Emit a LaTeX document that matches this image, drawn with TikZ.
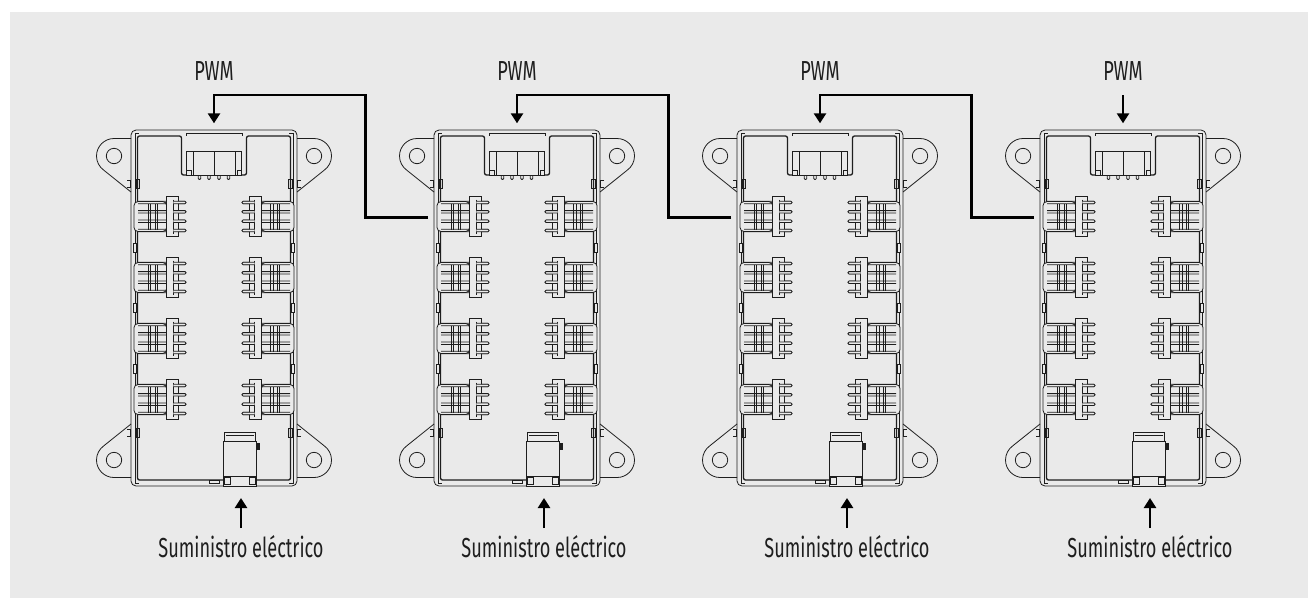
\documentclass[tikz,border=0pt]{standalone}
\usepackage{fontspec}
\newfontfamily\lblfont{Fira Sans}[FakeStretch=0.66]
\usetikzlibrary{arrows.meta}
\definecolor{bg}{HTML}{EAEAEA}
\definecolor{ink}{HTML}{1E1E1E}
\tikzset{
  part/.style={draw=ink, line width=0.8pt},
  wall/.style={draw=ink, line width=1.3pt},
  sig/.style={draw=black, line width=2.6pt, -{Triangle[length=10pt,width=12pt]}},
  lbl/.style={font=\lblfont\fontsize{27.5}{30}\selectfont, text=ink, inner sep=0pt, anchor=base},
}
\newcommand\drawboard[2]{%
\begin{scope}[shift={(#1,308)}]
  % ears
  \foreach \s in {1,-1}{\foreach \t in {1,-1}{
    \begin{scope}[xscale=\s, yscale=\t]
      \draw[part] (-83,-169.5) -- (-100,-169.5) arc[start angle=-90, end angle=-235, radius=17.5] -- (-83,-116);
      \draw[part] (-100,-152) circle[radius=7.7];
      \draw[part] (-87,-128) -- (-83.5,-128) -- (-83.5,-121) -- (-87,-121);
      \draw[part] (-78,-129) rectangle (-74.3,-120);
      \draw[part] (-79,-173) -- (-79,-175) -- (-75,-175);
    \end{scope}}}
  % body
  \node[part, rounded corners=5, minimum width=166pt, minimum height=356pt, inner sep=0pt] (body#2) at (0,0) {};
  \draw[part] (-79,-173) -- (-79,173) (79,-173) -- (79,173);
  \draw[wall, rounded corners=2] (-76.5,172) -- (-76.5,-172) -- (-32.5,-172) -- (-32.5,-133) -- (32.5,-133) -- (32.5,-172) -- (76.5,-172) -- (76.5,172) -- cycle;
  \draw[part] (-28,-172.5) -- (-28,-174.5) -- (28,-174.5) -- (28,-172.5);
  % top connector
  \draw[part, fill=bg] (-27.5,-156.5) rectangle (27.5,-133);
  \draw[part] (-21,-156.5) -- (-21,-133) (0,-156.5) -- (0,-133) (21,-156.5) -- (21,-133);
  \draw[part] (-27.5,-138) rectangle (-23,-133) (23,-138) rectangle (27.5,-133);
  \foreach \px in {-14.5,-5,5,14.5}
    \draw[part, rounded corners=1] (\px-1.3,-133) -- (\px-1.3,-128.5) -- (\px+1.3,-128.5) -- (\px+1.3,-133);
  % small wall marks
  \foreach \s in {1,-1}{
    \begin{scope}[xscale=\s]
      \foreach \ty in {-60.5,0,60.5}
        \draw[part, fill=bg] (-80.5,\ty-4.5) rectangle (-77.3,\ty+4.5);
    \end{scope}}
  % side connectors
  \foreach \yc in {-91.5,-30.5,30.5,91.5}{\foreach \s in {1,-1}{
    \begin{scope}[shift={(0,\yc)}, xscale=\s]
      \draw[part, fill=bg, rounded corners=4] (-80,-15) rectangle (-47.3,15);
      \draw[part] (-65.7,-13) -- (-65.7,13) (-63.3,-13) -- (-63.3,13) (-59,-13) -- (-59,13) (-56.7,-13) -- (-56.7,13);
      \foreach \py in {-14,-4.7,4.7,14}
        \draw[part, rounded corners=1.1] (-76,\py-1.2) -- (-30,\py-1.2) -- (-28,\py-1.2) -- (-28,\py+1.2) -- (-30,\py+1.2) -- (-76,\py+1.2);
      \draw[part, fill=bg] (-47.3,-20) rectangle (-35.7,20);
      \draw[part] (-40.7,-17) -- (-40.7,17);
      \foreach \py in {-14,-4.7,4.7,14}
        \draw[part, fill=bg, rounded corners=1.1] (-40.7,\py-1.2) -- (-28,\py-1.2) -- (-28,\py+1.2) -- (-40.7,\py+1.2);
    \end{scope}}}
  % bottom power connector
  \draw[part, fill=bg] (9.3,133.7) rectangle (42.7,178.7);
  \draw[part, fill=bg] (10.5,124.7) rectangle (41.5,133.7);
  \draw[part] (12,127.5) -- (40,127.5);
  \fill[ink] (42.7,135) rectangle (45.5,142);
  \draw[part] (9.3,168) -- (42.7,168);
  \draw[part] (10.5,169) rectangle (16.5,176) (35.5,169) rectangle (41.5,176);
  \draw[part] (-5,172.7) rectangle (5,175.3);
  % anchors
  \coordinate (top#2) at (0,-184.7);
  \coordinate (pin#2) at (-89,-90.5);
  \coordinate (pwrtip#2) at (27,190);
  \coordinate (pwrbase#2) at (27,220);
\end{scope}}
\begin{document}
\begin{tikzpicture}[x=1pt,y=-1pt]
  \useasboundingbox (0,0) rectangle (1308,598);
  \fill[bg] (10,12) rectangle (1308,598);
  \drawboard{214}{1}
  \drawboard{517}{2}
  \drawboard{820}{3}
  \drawboard{1123}{4}
  % labels
  \node[lbl] (pwmlbl1) at (214,80.7) {PWM};
  \node[lbl] (pwmlbl2) at (517,80.7) {PWM};
  \node[lbl] (pwmlbl3) at (820,80.7) {PWM};
  \node[lbl] (pwmlbl4) at (1123,80.7) {PWM};
  \node[lbl] (sup1) at (241,557) {Suministro eléctrico};
  \node[lbl] (sup2) at (544,557) {Suministro eléctrico};
  \node[lbl] (sup3) at (847,557) {Suministro eléctrico};
  \node[lbl] (sup4) at (1150,557) {Suministro eléctrico};
  % PWM chain
  \coordinate (hop1) at (365.5,95);
  \coordinate (hop2) at (668.5,95);
  \coordinate (hop3) at (971.5,95);
  \draw[sig] (pin2) -| (hop1) -- (top1 |- hop1) -- (top1);
  \draw[sig] (pin3) -| (hop2) -- (top2 |- hop2) -- (top2);
  \draw[sig] (pin4) -| (hop3) -- (top3 |- hop3) -- (top3);
  \draw[sig, shorten <=14.3pt] (top4 |- pwmlbl4.south) -- (top4);
  % power arrows
  \draw[sig] (pwrbase1) -- (pwrtip1);
  \draw[sig] (pwrbase2) -- (pwrtip2);
  \draw[sig] (pwrbase3) -- (pwrtip3);
  \draw[sig] (pwrbase4) -- (pwrtip4);
\end{tikzpicture}
\end{document}
